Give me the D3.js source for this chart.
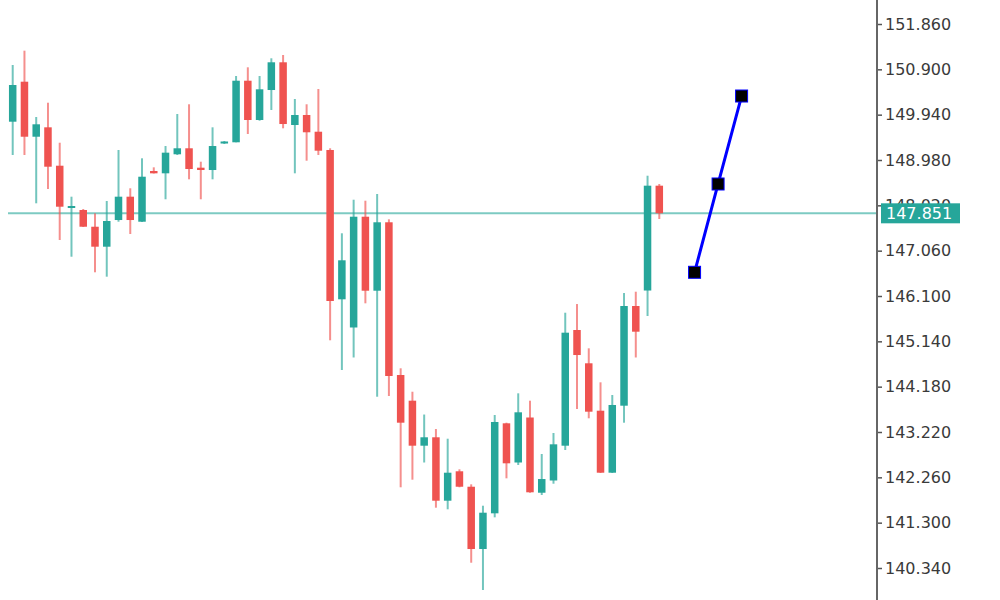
<!DOCTYPE html>
<html>
<head>
<meta charset="utf-8">
<script src="https://cdn.jsdelivr.net/npm/d3@7"></script>
<style>
  html, body { margin: 0; padding: 0; background: #ffffff; }
  svg { display: block; }
</style>
</head>
<body>
<svg id="chart" width="1000" height="600"></svg>
<script>
// ---- data ----
const openP  = [149.791,150.638,149.473,149.672,148.859,147.978,147.921,147.567,147.144,147.709,148.203,147.673,148.747,148.698,149.101,149.228,148.817,148.768,149.329,149.355,150.659,149.827,150.462,151.049,149.721,149.933,149.579,149.192,146.030,145.433,147.779,146.212,147.661,144.427,143.883,142.930,143.108,141.765,142.388,142.061,140.742,141.498,143.404,142.574,143.527,141.934,142.193,142.930,145.380,144.675,143.671,142.358,143.777,145.888,146.216,148.436];
const highP  = [150.992,151.295,149.891,150.193,149.346,148.203,147.942,147.851,148.112,149.192,148.381,149.016,148.825,149.276,149.954,150.160,148.944,149.672,149.382,150.759,150.943,150.759,151.134,151.204,150.272,150.160,150.484,149.228,147.428,148.139,148.118,148.260,147.724,144.569,144.073,143.590,143.283,143.078,142.430,142.112,141.659,143.580,143.417,144.039,143.883,142.754,143.199,145.746,145.930,144.992,144.272,144.003,146.163,146.191,148.647,148.472];
const lowP   = [149.086,149.086,148.063,148.366,147.286,146.932,147.561,146.602,146.509,147.673,147.413,147.667,148.694,148.148,149.086,148.571,148.148,148.571,149.319,149.355,149.531,149.812,150.039,149.651,148.698,148.965,149.086,145.162,144.533,144.798,145.945,143.967,143.982,142.049,142.210,142.574,141.617,141.583,142.049,140.452,139.874,141.413,142.239,142.521,141.934,141.886,142.125,142.839,143.707,143.510,142.352,142.352,143.417,144.798,145.676,147.730];
const closeP = [150.568,149.473,149.736,148.838,147.991,148.006,147.567,147.144,147.688,148.203,147.709,148.626,148.698,149.135,149.228,148.789,148.768,149.276,149.372,150.659,149.827,150.477,151.049,149.742,149.933,149.567,149.177,145.994,146.856,147.779,146.212,147.661,144.406,143.417,142.930,143.108,141.765,142.358,142.061,140.742,141.511,143.432,142.557,143.637,141.943,142.224,142.959,145.323,144.850,143.650,142.358,143.792,145.888,145.344,148.436,147.851];
const currentPrice = 147.851;
const projIndex = [58, 60, 62];
const projValue = [146.602, 148.472, 150.335];
const tickValues = [140.34,141.30,142.26,143.22,144.18,145.14,146.10,147.06,148.02,148.98,149.94,150.90,151.86];

// ---- scales ----
const W = 1000, H = 600;
const x = d3.scaleLinear().domain([0, openP.length - 1]).range([12.7, 659.3]);
const y = d3.scaleLinear().domain([140.34, 151.86]).range([568, 24]);
const axisX = 877;
const up = "#26a69a", down = "#ef5350";
const bodyW = 7.5;

const svg = d3.select("#chart");

const candles = openP.map((o, i) => ({ i, o, h: highP[i], l: lowP[i], c: closeP[i] }));

// current price line
svg.append("line")
  .attr("x1", 8).attr("x2", axisX)
  .attr("y1", y(currentPrice)).attr("y2", y(currentPrice))
  .attr("stroke", up).attr("stroke-opacity", 0.6).attr("stroke-width", 2);

// wicks
svg.append("g").selectAll("line").data(candles).join("line")
  .attr("x1", d => x(d.i)).attr("x2", d => x(d.i))
  .attr("y1", d => y(d.h)).attr("y2", d => y(d.l))
  .attr("stroke", d => d.c >= d.o ? up : down)
  .attr("stroke-opacity", 0.65)
  .attr("stroke-width", 2);

// bodies
svg.append("g").selectAll("rect").data(candles).join("rect")
  .attr("x", d => x(d.i) - bodyW / 2)
  .attr("width", bodyW)
  .attr("y", d => y(Math.max(d.o, d.c)))
  .attr("height", d => Math.max(2, Math.abs(y(d.o) - y(d.c))))
  .attr("fill", d => d.c >= d.o ? up : down);

// projection line
const proj = projIndex.map((p, k) => ({ p, v: projValue[k] }));
svg.append("path")
  .datum(proj)
  .attr("fill", "none")
  .attr("stroke", "#0000ff")
  .attr("stroke-width", 3)
  .attr("d", d3.line().x(d => x(d.p)).y(d => y(d.v)));
svg.append("g").selectAll("rect").data(proj).join("rect")
  .attr("x", d => x(d.p) - 6).attr("y", d => y(d.v) - 6)
  .attr("width", 12).attr("height", 12)
  .attr("fill", "#000000")
  .attr("stroke", "#0000ff").attr("stroke-width", 1);

// axis
const axis = d3.axisRight(y)
  .tickValues(tickValues)
  .tickFormat(d3.format(".3f"))
  .tickSize(5)
  .tickSizeOuter(0)
  .tickPadding(3);
const gA = svg.append("g").attr("transform", `translate(${axisX},0)`).call(axis);
gA.select(".domain").remove();
gA.selectAll(".tick line").attr("stroke", "#555").attr("stroke-width", 1.5);
gA.selectAll(".tick text")
  .attr("fill", "#3a3a3a")
  .style("font-family", "'DejaVu Sans', sans-serif")
  .style("font-size", "16px");
svg.append("line")
  .attr("x1", axisX).attr("x2", axisX).attr("y1", 0).attr("y2", H)
  .attr("stroke", "#666").attr("stroke-width", 2);

// current price label
const lbl = svg.append("g").attr("transform", `translate(${axisX + 4},${y(currentPrice)})`);
lbl.append("rect").attr("x", 0).attr("y", -10).attr("width", 79).attr("height", 20).attr("fill", up);
lbl.append("text")
  .attr("x", 5).attr("y", 0).attr("dy", "0.36em")
  .attr("fill", "#ffffff")
  .style("font-family", "'DejaVu Sans', sans-serif")
  .style("font-size", "16px")
  .text(d3.format(".3f")(currentPrice));
</script>
</body>
</html>
